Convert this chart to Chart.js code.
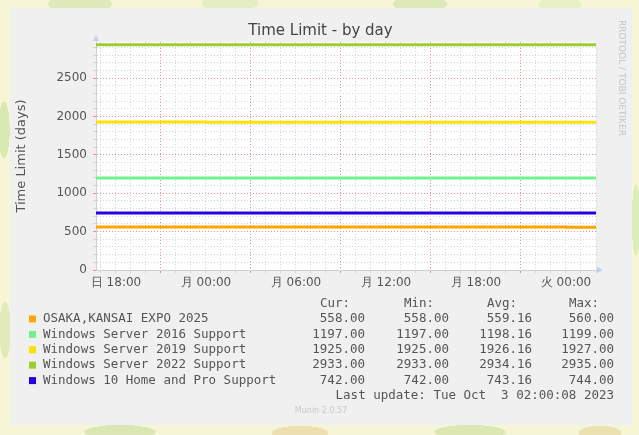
<!DOCTYPE html>
<html>
<head>
<meta charset="utf-8">
<script src="https://cdn.jsdelivr.net/npm/chart.js@4.4.0/dist/chart.umd.min.js"></script>
<style>
  html, body { margin: 0; padding: 0; }
  body {
    width: 639px; height: 435px; overflow: hidden;
    background-color: #f6f6d6;
    background-image:
      radial-gradient(ellipse 45px 14px at 80px 4px, #dfeabb 70%, transparent 72%),
      radial-gradient(ellipse 40px 12px at 230px 3px, #e4eec2 70%, transparent 72%),
      radial-gradient(ellipse 38px 12px at 420px 4px, #dde9b8 70%, transparent 72%),
      radial-gradient(ellipse 30px 12px at 560px 5px, #e8efc4 70%, transparent 72%),
      radial-gradient(ellipse 8px 40px at 4px 130px, #dbe8b4 70%, transparent 72%),
      radial-gradient(ellipse 8px 40px at 5px 330px, #e0eabb 70%, transparent 72%),
      radial-gradient(ellipse 6px 50px at 636px 220px, #e0ebbc 70%, transparent 72%),
      radial-gradient(ellipse 50px 10px at 120px 432px, #dae7b4 70%, transparent 72%),
      radial-gradient(ellipse 40px 10px at 300px 433px, #eedfb0 70%, transparent 72%),
      radial-gradient(ellipse 50px 10px at 470px 432px, #dbe8b4 70%, transparent 72%),
      radial-gradient(ellipse 30px 10px at 600px 433px, #ece1b2 70%, transparent 72%);
  }
  #wrap { position: absolute; left: 0; top: 0; width: 639px; height: 435px; }
</style>
</head>
<body>
<div id="wrap"><canvas id="TimeLimitChart" width="639" height="435"></canvas></div>
<script>
// hours relative to Monday 00:00 (Sun 16:40 .. Tue 02:00)
const hours = [-7.33, 0, 24, 26];

const osakaExpo = [560, 559, 558, 558];
const winServer2016 = [1199, 1198, 1197, 1197];
const winServer2019 = [1927, 1926, 1925, 1925];
const winServer2022 = [2935, 2934, 2933, 2933];
const win10 = [744, 743, 742, 742];

const seriesNames = [
    "OSAKA,KANSAI EXPO 2025",
    "Windows Server 2016 Support",
    "Windows Server 2019 Support",
    "Windows Server 2022 Support",
    "Windows 10 Home and Pro Support"
];
const seriesColors = ["#ffa500", "#70f090", "#ffe100", "#9acd32", "#2200e6"];

const curVals = ["558.00", "1197.00", "1925.00", "2933.00", "742.00"];
const minVals = ["558.00", "1197.00", "1925.00", "2933.00", "742.00"];
const avgVals = ["559.16", "1198.16", "1926.16", "2934.16", "743.16"];
const maxVals = ["560.00", "1199.00", "1927.00", "2935.00", "744.00"];

const xTickHours = [-6, 0, 6, 12, 18, 24];
const xTickLabels = ["日 18:00", "月 00:00", "月 06:00", "月 12:00", "月 18:00", "火 00:00"];
const yTickLabels = [0, 500, 1000, 1500, 2000, 2500];

const allSeries = [osakaExpo, winServer2016, winServer2019, winServer2022, win10];

const majorGrid = "#e89494";
const minorGrid = "#d6d6d6";
const textColor = "#555";

// panel, plot background, legend and rrdtool decorations
const muninPlugin = {
    id: "munin",
    beforeDraw(chart) {
        const ctx = chart.ctx;
        const a = chart.chartArea;
        ctx.save();
        ctx.fillStyle = "#f0f0f0";
        ctx.fillRect(10, 8, 622, 417);
        ctx.fillStyle = "#ffffff";
        ctx.fillRect(a.left, a.top, a.right - a.left, a.bottom - a.top);
        ctx.restore();
    },
    afterDraw(chart) {
        const ctx = chart.ctx;
        const a = chart.chartArea;
        ctx.save();

        // axis arrows
        ctx.fillStyle = "#c4ccf2";
        ctx.beginPath();
        ctx.moveTo(a.left - 3, a.top - 1);
        ctx.lineTo(a.left + 3, a.top - 1);
        ctx.lineTo(a.left, a.top - 7);
        ctx.fill();
        ctx.beginPath();
        ctx.moveTo(a.right + 1, a.bottom - 3);
        ctx.lineTo(a.right + 1, a.bottom + 3);
        ctx.lineTo(a.right + 7, a.bottom);
        ctx.fill();

        // legend
        ctx.font = '12.5px "DejaVu Sans Mono"';
        ctx.textBaseline = "middle";
        ctx.fillStyle = textColor;
        const cols = [365, 449, 532, 614];
        const heads = ["Cur:", "Min:", "Avg:", "Max:"];
        ctx.textAlign = "right";
        heads.forEach((h, i) => ctx.fillText(h, cols[i] - 15, 304));

        seriesNames.forEach((name, i) => {
            const y = 319 + i * 15.4;
            ctx.fillStyle = seriesColors[i];
            ctx.fillRect(29, y - 3.5, 7, 7);
            ctx.fillStyle = textColor;
            ctx.textAlign = "left";
            ctx.fillText(name, 43, y);
            ctx.textAlign = "right";
            ctx.fillText(curVals[i], cols[0], y);
            ctx.fillText(minVals[i], cols[1], y);
            ctx.fillText(avgVals[i], cols[2], y);
            ctx.fillText(maxVals[i], cols[3], y);
        });
        ctx.textAlign = "right";
        ctx.fillText("Last update: Tue Oct  3 02:00:08 2023", 614, 396);

        ctx.font = '8px "DejaVu Sans"';
        ctx.fillStyle = "#c8c8c8";
        ctx.textAlign = "center";
        ctx.fillText("Munin 2.0.57", 321, 411);

        // rrdtool credit
        ctx.translate(621, 78);
        ctx.rotate(Math.PI / 2);
        ctx.font = '9px "DejaVu Sans"';
        ctx.fillStyle = "#c4c4c4";
        ctx.fillText("RRDTOOL / TOBI OETIKER", 0, 0);
        ctx.restore();
    }
};

const ctx = document.getElementById("TimeLimitChart").getContext("2d");

new Chart(ctx, {
    type: "line",
    data: {
        datasets: allSeries.map((vals, i) => ({
            label: seriesNames[i],
            data: hours.map((h, j) => ({ x: h, y: vals[j] })),
            borderColor: seriesColors[i],
            backgroundColor: seriesColors[i],
            borderWidth: 3,
            pointRadius: 0,
            stepped: true,
            fill: false
        }))
    },
    options: {
        responsive: false,
        animation: false,
        events: [],
        layout: { padding: { left: 12, right: 10, top: 8, bottom: 135 } },
        plugins: {
            legend: { display: false },
            tooltip: { enabled: false },
            title: {
                display: true,
                text: "Time Limit - by day",
                color: "#444",
                font: { family: "DejaVu Sans", size: 15, weight: "normal" },
                padding: { top: 14, bottom: 2 }
            }
        },
        scales: {
            x: {
                type: "linear",
                min: -7.333,
                max: 26,
                afterBuildTicks: axis => {
                    const t = [];
                    for (let h = -7; h <= 26; h++) t.push({ value: h });
                    axis.ticks = t;
                },
                afterFit: s => { s.height = 30; },
                grid: {
                    color: c => (((c.tick.value % 6) + 6) % 6 === 3 ? majorGrid : minorGrid),
                    tickLength: 3
                },
                border: { display: true, color: "#d0d0d0", dash: [1, 2] },
                ticks: {
                    autoSkip: false,
                    maxRotation: 0,
                    padding: 3,
                    color: textColor,
                    font: { family: "DejaVu Sans", size: 12 },
                    callback: v => {
                        const k = xTickHours.indexOf(v);
                        return k >= 0 ? xTickLabels[k] : "";
                    }
                }
            },
            y: {
                min: 0,
                max: 2970,
                afterBuildTicks: axis => {
                    const t = [];
                    for (let v = 0; v < 2970; v += 100) t.push({ value: v });
                    axis.ticks = t;
                },
                afterFit: s => { s.width = 84; },
                grid: {
                    color: c => (c.tick.value % 500 === 0 ? majorGrid : minorGrid),
                    tickLength: 3
                },
                border: { display: true, color: "#d0d0d0", dash: [1, 2] },
                title: {
                    display: true,
                    text: "Time Limit (days)",
                    color: textColor,
                    font: { family: "DejaVu Sans", size: 13 },
                    padding: { top: 2, bottom: 0 }
                },
                ticks: {
                    autoSkip: false,
                    padding: 6,
                    color: textColor,
                    font: { family: "DejaVu Sans", size: 12 },
                    callback: v => (yTickLabels.includes(v) ? String(v) : "")
                }
            },
            pad: {
                position: "right",
                grid: { display: false },
                border: { display: false },
                ticks: { display: false },
                afterFit: s => { s.width = 33; }
            }
        }
    },
    plugins: [muninPlugin]
});
</script>
</body>
</html>
